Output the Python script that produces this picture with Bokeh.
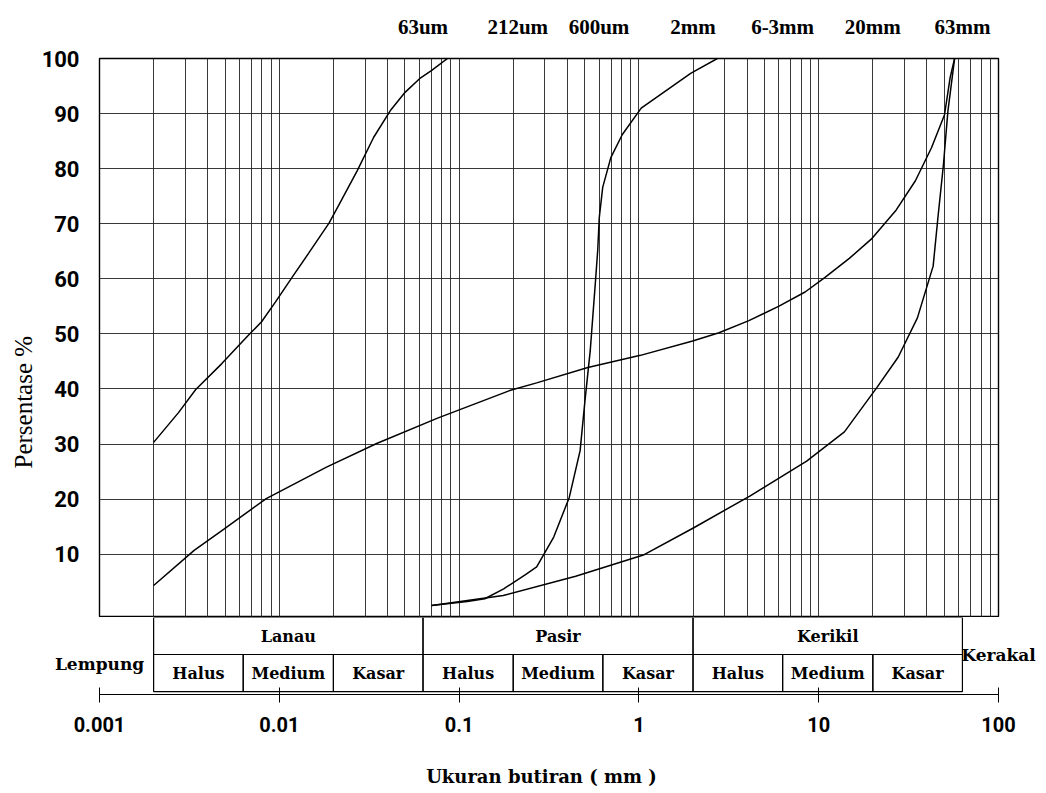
from bokeh.plotting import figure
from bokeh.models import Range1d, FixedTicker, LogAxis, Label, ColumnDataSource, Title
from bokeh.embed import file_html
from bokeh.resources import INLINE

# ---------------- data ----------------
curve_a_size = [0.002, 0.00275, 0.00343, 0.00479, 0.00667, 0.00797, 0.00953, 0.0118, 0.0146,
                0.0189, 0.0212, 0.0271, 0.0335, 0.0418, 0.0502, 0.0611, 0.0701, 0.0862]
curve_a_pct = [30.3, 35.7, 39.9, 44.6, 49.6, 52.2, 55.8, 60.3, 64.7,
               70.1, 73.1, 79.6, 85.7, 90.7, 93.9, 96.5, 97.8, 100]

curve_b_size = [0.0703, 0.111, 0.139, 0.177, 0.234, 0.270, 0.336, 0.410, 0.471, 0.501,
                0.536, 0.572, 0.590, 0.602, 0.629, 0.698, 0.809, 1.03, 1.94, 2.73]
curve_b_pct = [0.7, 1.4, 1.9, 3.7, 6.3, 7.7, 13.1, 20.3, 28.8, 37.8,
               46.9, 59.1, 65.1, 71.1, 76.6, 82.0, 86.2, 91.0, 97.3, 100]

curve_c_size = [0.002, 0.00336, 0.0049, 0.00846, 0.0183, 0.0348, 0.0759, 0.191, 0.270, 0.520,
                1.02, 1.99, 2.79, 4.09, 5.98, 8.40, 10.8, 14.8, 19.6, 27.0, 34.5, 42.4,
                50.1, 53.8, 57.0]
curve_c_pct = [4.3, 10.7, 14.5, 20.1, 25.8, 30.1, 34.7, 39.7, 41.1, 43.9,
               46.1, 48.7, 50.2, 52.4, 55.0, 57.6, 60.2, 63.7, 67.2, 72.5, 77.8, 83.8,
               89.8, 96.5, 100]

curve_d_size = [0.0703, 0.176, 0.445, 1.07, 2.02, 4.16, 8.57, 13.9, 21.0, 27.7, 35.4,
                43.3, 46.0, 49.4, 52.3, 57.0]
curve_d_pct = [0.7, 2.5, 6.0, 9.9, 14.8, 20.6, 26.9, 32.2, 40.2, 45.8, 52.9,
               62.3, 71.0, 80.7, 90.4, 100]

y_ticks = [10, 20, 30, 40, 50, 60, 70, 80, 90, 100]

top_sizes = [0.063, 0.212, 0.6, 2, 6.3, 20, 63]
top_labels = ["63um", "212um", "600um", "2mm", "6-3mm", "20mm", "63mm"]

bottom_ticks = [0.001, 0.01, 0.1, 1, 10, 100]
bottom_labels = ["0.001", "0.01", "0.1", "1", "10", "100"]

main_classes = ["Lanau", "Pasir", "Kerikil"]
main_bounds = [0.002, 0.063, 2, 63]
sub_classes = ["Halus", "Medium", "Kasar", "Halus", "Medium", "Kasar", "Halus", "Medium", "Kasar"]
sub_bounds = [0.002, 0.0063, 0.02, 0.063, 0.2, 0.63, 2, 6.3, 20, 63]
clay_label = "Lempung"
cobble_label = "Kerakal"

x_min, x_max = 0.001, 100

# ---------------- layout / styling constants ----------------
TOTAL_W = 1044
FRAME_L = 99          # page x of the chart frame's left edge
FRAME_W = 899
FRAME_T = 58
FRAME_H = 559
T_LEFT = 40           # page x where the table figure's frame starts
T_RIGHT = 1042
NUM_FONT = "Roboto"
SERIF_B = "Liberation Serif"
TABLE_FONT = "DejaVu Serif"

decades = 5.0
px_per_dec = FRAME_W / decades
t_x_start = 10 ** (-3 - (FRAME_L - T_LEFT) / px_per_dec)
t_x_end = 10 ** (2 + (T_RIGHT - (FRAME_L + FRAME_W)) / px_per_dec)

grid_x = [k * 10.0 ** e for e in range(-3, 2) for k in range(1, 10)] + [x_max]

# ---------------- main chart ----------------
p = figure(x_axis_type="log", x_range=Range1d(x_min, x_max), y_range=Range1d(-1.5, 100),
           frame_width=FRAME_W, frame_height=FRAME_H,
           min_border_left=FRAME_L, min_border_right=TOTAL_W - FRAME_L - FRAME_W,
           min_border_top=FRAME_T, min_border_bottom=0,
           x_axis_location=None, output_backend="svg", toolbar_location=None)
p.background_fill_color = "white"
p.border_fill_color = "white"
p.outline_line_color = "black"
p.outline_line_width = 1.4

p.xgrid.ticker = FixedTicker(ticks=grid_x)
p.xgrid.grid_line_color = "#222222"
p.xgrid.grid_line_width = 0.9
p.ygrid.ticker = FixedTicker(ticks=y_ticks)
p.ygrid.grid_line_color = "#222222"
p.ygrid.grid_line_width = 0.9

p.yaxis.ticker = FixedTicker(ticks=y_ticks)
p.yaxis.axis_line_color = None
p.yaxis.major_tick_line_color = None
p.yaxis.minor_tick_line_color = None
p.yaxis.major_label_text_font = NUM_FONT
p.yaxis.major_label_text_font_size = "22px"
p.yaxis.major_label_text_font_style = "bold"
p.yaxis.major_label_text_color = "black"
p.yaxis.major_label_standoff = 14

top_axis = LogAxis(ticker=FixedTicker(ticks=top_sizes),
                   major_label_overrides={s: t for s, t in zip(top_sizes, top_labels)})
top_axis.axis_line_color = None
top_axis.major_tick_line_color = None
top_axis.minor_tick_line_color = None
top_axis.major_label_text_font = SERIF_B
top_axis.major_label_text_font_style = "bold"
top_axis.major_label_text_font_size = "21px"
top_axis.major_label_text_color = "black"
top_axis.major_label_standoff = 14
p.add_layout(top_axis, "above")

for xs, ys in [(curve_a_size, curve_a_pct), (curve_b_size, curve_b_pct),
               (curve_c_size, curve_c_pct), (curve_d_size, curve_d_pct)]:
    p.line(xs, ys, line_color="black", line_width=1.5)

p.add_layout(Title(text="Persentase %", align="left", offset=149, standoff=4,
                   text_font=SERIF_B, text_font_size="25px", text_font_style="normal",
                   text_color="black"), "left")

# ---------------- classification table + size axis ----------------
t = figure(x_axis_type="log", x_range=Range1d(t_x_start, t_x_end), y_range=Range1d(-0.08, 2),
           frame_width=T_RIGHT - T_LEFT, frame_height=77,
           min_border_left=T_LEFT, min_border_right=TOTAL_W - T_RIGHT,
           min_border_top=0, y_axis_location=None,
           output_backend="svg", toolbar_location=None)
t.outline_line_color = None
t.xgrid.visible = False
t.ygrid.visible = False
t.background_fill_color = "white"
t.border_fill_color = "white"

main_src = ColumnDataSource(dict(
    left=main_bounds[:-1], right=main_bounds[1:],
    cx=[(a * b) ** 0.5 for a, b in zip(main_bounds[:-1], main_bounds[1:])],
    name=main_classes))
sub_src = ColumnDataSource(dict(
    left=sub_bounds[:-1], right=sub_bounds[1:],
    cx=[(a * b) ** 0.5 for a, b in zip(sub_bounds[:-1], sub_bounds[1:])],
    name=sub_classes))

t.quad(left="left", right="right", bottom=1, top=2, source=main_src,
       fill_color=None, line_color="black", line_width=1.2)
t.quad(left="left", right="right", bottom=0, top=1, source=sub_src,
       fill_color=None, line_color="black", line_width=1.2)
t.text(x="cx", y=1.5, text="name", source=main_src, text_align="center",
       text_baseline="middle", text_font={"value": TABLE_FONT}, text_font_size="16px",
       text_font_style="bold", text_color="black")
t.text(x="cx", y=0.5, text="name", source=sub_src, text_align="center",
       text_baseline="middle", text_font={"value": TABLE_FONT}, text_font_size="16px",
       text_font_style="bold", text_color="black")

t.add_layout(Label(x=x_min, y=0.75, text=clay_label, text_align="center",
                   text_baseline="middle", text_font=TABLE_FONT, text_font_size="17px",
                   text_font_style="bold", text_color="black"))
t.add_layout(Label(x=x_max, y=1.0, text=cobble_label, text_align="center",
                   text_baseline="middle", text_font=TABLE_FONT, text_font_size="17px",
                   text_font_style="bold", text_color="black"))

ax = t.xaxis[0]
ax.bounds = (x_min, x_max)
ax.ticker = FixedTicker(ticks=bottom_ticks)
ax.major_label_overrides = {v: s for v, s in zip(bottom_ticks, bottom_labels)}
ax.axis_line_color = "black"
ax.axis_line_width = 1.2
ax.major_tick_in = 7
ax.major_tick_out = 8
ax.major_tick_line_color = "black"
ax.minor_tick_line_color = None
ax.major_label_text_font = NUM_FONT
ax.major_label_text_font_style = "bold"
ax.major_label_text_font_size = "20px"
ax.major_label_text_color = "black"
ax.major_label_standoff = 14
ax.axis_label = "Ukuran butiran ( mm )"
ax.axis_label_text_font = TABLE_FONT
ax.axis_label_text_font_style = "bold"
ax.axis_label_text_font_size = "18px"
ax.axis_label_text_color = "black"
ax.axis_label_standoff = 31

# two independent roots, stacked one below the other (no frame alignment between them)
open("out.html", "w").write(file_html([p, t], INLINE))
